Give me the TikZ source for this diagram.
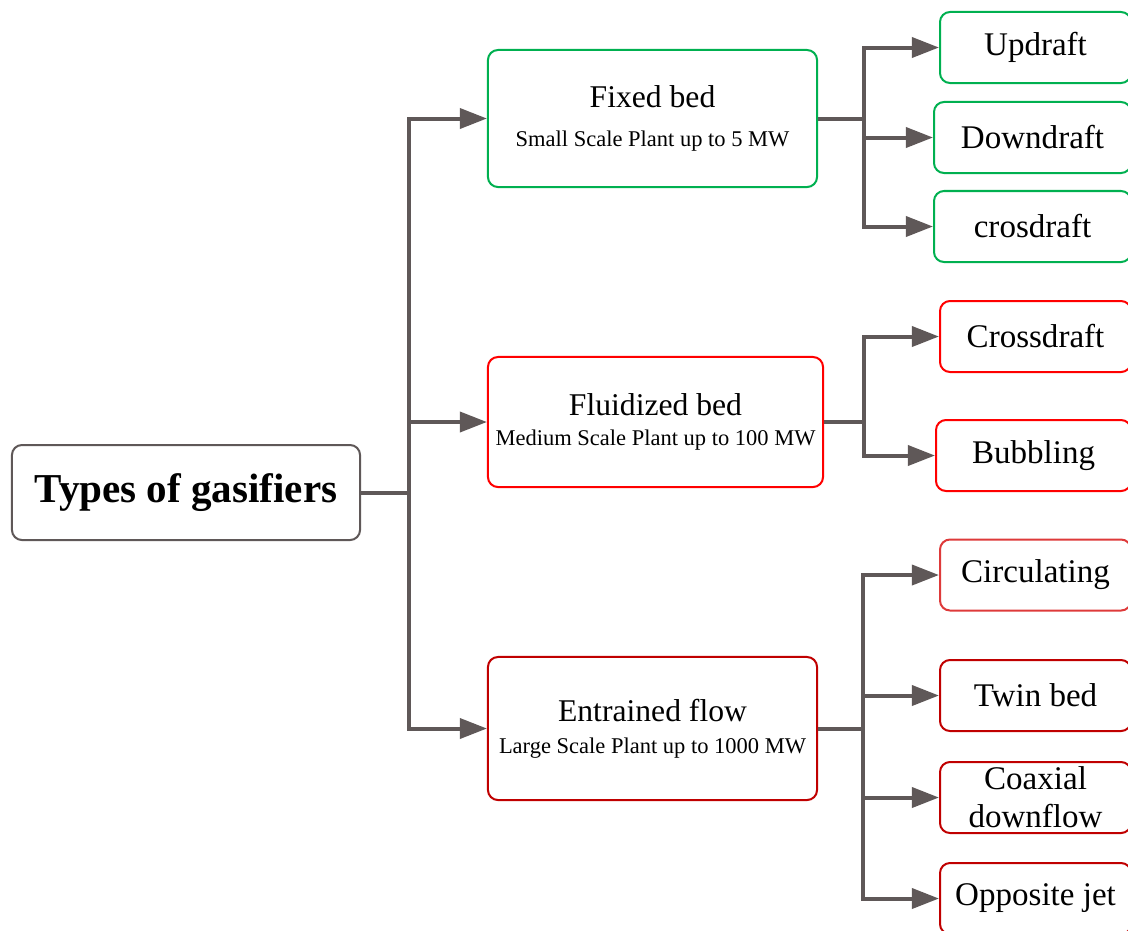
\documentclass[tikz,border=0pt]{standalone}
\usepackage{fontspec}
\setmainfont{Liberation Serif}
\usetikzlibrary{arrows.meta}

\definecolor{linegray}{HTML}{5F5858}
\definecolor{boxgreen}{HTML}{00B050}
\definecolor{boxred}{HTML}{FF0000}
\definecolor{darkred}{HTML}{C00000}
\definecolor{softred}{HTML}{DE3A3A}

\tikzset{
    box/.style={draw, rounded corners=0.25cm, line width=0.05cm, fill=white,
        align=center, inner sep=0pt},
    leaf/.style={box, anchor=west, minimum height=1.775cm,
        font=\fontsize{23.5}{27}\selectfont},
    arr/.style={draw=linegray, line width=0.1cm,
        -{Triangle[length=0.68cm,width=0.5cm]}},
}

\newcommand{\boxtitle}[1]{{\fontsize{22.5}{22.5}\selectfont #1}}
\newcommand{\boxsub}[1]{{\fontsize{16}{16}\selectfont #1}}

\begin{document}
\begin{tikzpicture}[x=0.025cm,y=-0.025cm]
\useasboundingbox (0,0) rectangle (1128,930);
\clip (0,0) rectangle (1128,930);

% root
\node[box, draw=linegray, minimum width=8.7cm, minimum height=2.375cm,
    font=\fontsize{29.2}{32}\selectfont\bfseries] (root) at (186,492.5) {Types of gasifiers};

% middle level
\node[box, draw=boxgreen, minimum width=8.225cm, minimum height=3.425cm,
    font=\fontsize{22.5}{22.5}\selectfont] (fixed)
    at (652.5,118.5) {\boxtitle{Fixed bed}\\[5.5pt]\boxsub{Small Scale Plant up to 5 MW}};
\node[box, draw=boxred, minimum width=8.375cm, minimum height=3.25cm,
    font=\fontsize{22.5}{22.5}\selectfont] (fluid)
    at (655.5,422) {\boxtitle{Fluidized bed}\\[-1pt]\boxsub{Medium Scale Plant up to 100 MW}};
\node[box, draw=darkred, minimum width=8.225cm, minimum height=3.575cm,
    font=\fontsize{22.5}{22.5}\selectfont] (entr)
    at (652.5,728.5) {\boxtitle{Entrained flow}\\[0.2pt]\boxsub{Large Scale Plant up to 1000 MW}};

% leaves
\node[leaf, draw=boxgreen, minimum width=4.775cm] (upd) at (939,47.5) {Updraft};
\node[leaf, draw=boxgreen, minimum width=4.925cm] (down) at (933,137.5) {Downdraft};
\node[leaf, draw=boxgreen, minimum width=4.925cm] (cros) at (933,226.5) {crosdraft};

\node[leaf, draw=boxred, minimum width=4.775cm] (cross) at (939,336.5) {Crossdraft};
\node[leaf, draw=boxred, minimum width=4.875cm] (bub) at (935,455.5) {Bubbling};

\node[leaf, draw=softred, minimum width=4.775cm] (circ) at (939,575) {Circulating};
\node[leaf, draw=darkred, minimum width=4.775cm] (twin) at (939,695.5) {Twin bed};
\node[leaf, draw=darkred, minimum width=4.775cm, font=\fontsize{23.5}{27}\selectfont] (coax)
    at (939,797.5) {Coaxial\\downflow};
\node[leaf, draw=darkred, minimum width=4.775cm] (opp) at (939,898.5) {Opposite jet};

% connectors
\foreach \n in {fixed,fluid,entr}
    \draw[arr] (root.east) -- ++(48,0) |- (\n.west);
\foreach \n in {upd,down,cros}
    \draw[arr] (fixed.east) -- ++(46,0) |- (\n.west);
\foreach \n in {cross,bub}
    \draw[arr] (fluid.east) -- ++(40,0) |- (\n.west);
\foreach \n in {circ,twin,coax,opp}
    \draw[arr] (entr.east) -- ++(45,0) |- (\n.west);
\end{tikzpicture}
\end{document}
